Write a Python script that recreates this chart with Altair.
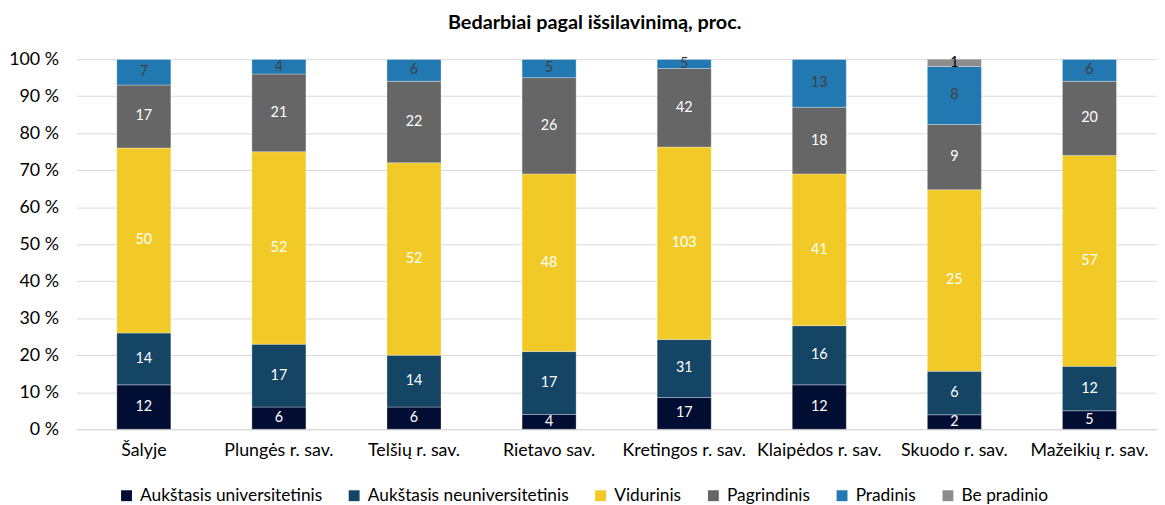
import altair as alt
import pandas as pd

categories = ["Šalyje", "Plungės r. sav.", "Telšių r. sav.", "Rietavo sav.",
              "Kretingos r. sav.", "Klaipėdos r. sav.", "Skuodo r. sav.", "Mažeikių r. sav."]
levels = ["Aukštasis universitetinis", "Aukštasis neuniversitetinis", "Vidurinis",
          "Pagrindinis", "Pradinis", "Be pradinio"]
aukst_univ = [12, 6, 6, 4, 17, 12, 2, 5]
aukst_neuniv = [14, 17, 14, 17, 31, 16, 6, 12]
vidurinis = [50, 52, 52, 48, 103, 41, 25, 57]
pagrindinis = [17, 21, 22, 26, 42, 18, 9, 20]
pradinis = [7, 4, 6, 5, 5, 13, 8, 6]
be_pradinio = [0, 0, 0, 0, 0, 0, 1, 0]
y_ticks = [0, 0.1, 0.2, 0.3, 0.4, 0.5, 0.6, 0.7, 0.8, 0.9, 1.0]
colors = ["#020D33", "#154565", "#F2CA27", "#666666", "#2279B1", "#8C8C8C"]
label_colors = ["#FFFFFF", "#FFFFFF", "#FFFFFF", "#FFFFFF", "#404040", "#000000"]

series = [aukst_univ, aukst_neuniv, vidurinis, pagrindinis, pradinis, be_pradinio]
rows = []
for li, (lvl, vals) in enumerate(zip(levels, series)):
    for c, v in zip(categories, vals):
        rows.append({"cat": c, "level": lvl, "order": li, "value": v,
                     "lcolor": label_colors[li]})
df = pd.DataFrame(rows)

FONT = "Lato"

base = alt.Chart(df).transform_stack(
    stack="value", groupby=["cat"], as_=["y0", "y1"], offset="normalize",
    sort=[alt.SortField("order", order="ascending")]
)

xscale = alt.Scale(paddingInner=0.6, paddingOuter=0.3)
yscale = alt.Scale(domain=[0, 1])
xaxis = alt.Axis(labelAngle=0, ticks=False, domainColor="#D9D9D9",
                 labelFontSize=18, labelColor="#000000", labelPadding=12,
                 labelFont=FONT, labelLimit=300)
yaxis = alt.Axis(values=y_ticks,
                 labelExpr="round(datum.value*100) + ' %'",
                 labelOverlap=False,
                 grid=True, gridColor="#D9D9D9", domain=False, ticks=False,
                 labelFontSize=18, labelColor="#000000", labelPadding=18,
                 labelFont=FONT)

bars = base.mark_bar(stroke="#FFFFFF", strokeWidth=0.5, strokeOpacity=0.6).encode(
    x=alt.X("cat:N", sort=categories, title=None, scale=xscale, axis=xaxis),
    y=alt.Y("y0:Q", title=None, scale=yscale, axis=yaxis),
    y2="y1:Q",
    color=alt.Color("level:N", sort=levels,
                    scale=alt.Scale(domain=levels, range=colors),
                    legend=alt.Legend(title=None, orient="none", direction="horizontal",
                                      legendX=42, legendY=432, symbolType="square",
                                      symbolSize=121, symbolStrokeWidth=0,
                                      labelFontSize=17.5, labelFont=FONT, labelLimit=400,
                                      labelColor="#000000", columnPadding=23,
                                      labelOffset=5, symbolOpacity=1)),
    order=alt.Order("order:Q"),
)

texts = base.transform_filter("datum.value > 0").transform_calculate(
    mid="(datum.y0 + datum.y1) / 2"
).mark_text(fontSize=14.5, font=FONT, baseline="middle").encode(
    x=alt.X("cat:N", sort=categories, title=None, scale=xscale, axis=xaxis),
    y=alt.Y("mid:Q", title=None, scale=yscale, axis=yaxis),
    text=alt.Text("value:Q"),
    color=alt.Color("lcolor:N", scale=None),
)

chart = alt.layer(bars, texts).properties(
    width=1092, height=374,
    title=alt.TitleParams("Bedarbiai pagal išsilavinimą, proc.", fontSize=20,
                          font=FONT, fontWeight="bold", anchor="middle", frame="bounds",
                          offset=17, dx=12, color="#000000"),
    autosize=alt.AutoSizeParams(type="none"),
    padding={"left": 69, "top": 49, "right": 0, "bottom": 90},
).configure_view(stroke=None)

chart.save("out.html", embed_options={"renderer": "svg", "actions": False})
